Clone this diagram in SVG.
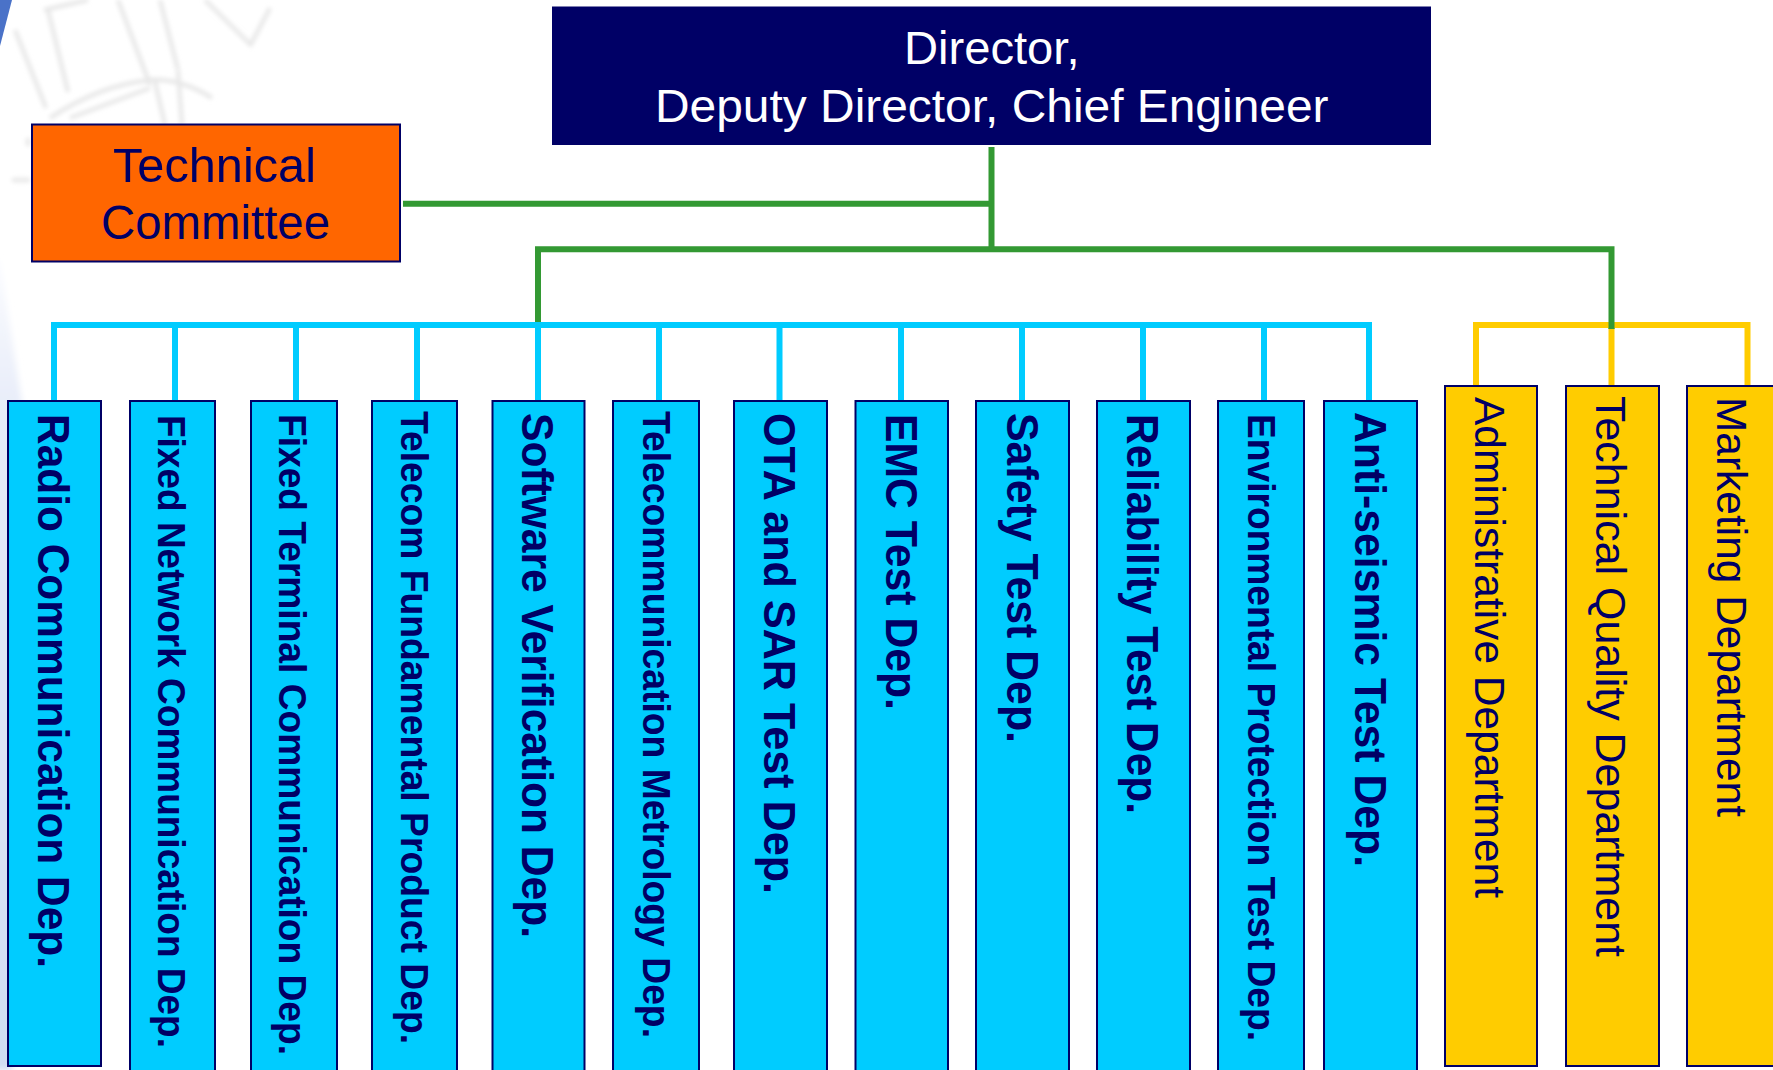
<svg xmlns="http://www.w3.org/2000/svg" width="1773" height="1070" viewBox="0 0 1773 1070">
<style>
.t{font-family:"Liberation Sans",Arial,sans-serif;fill:#000066}
.b{font-weight:bold}
.w{font-family:"Liberation Sans",Arial,sans-serif;fill:#fff}
.box{stroke:#000066;stroke-width:2}
.cy{fill:#00ccff}.go{fill:#ffcc00}
.g{stroke:#339933;stroke-width:6;fill:none}
.c{stroke:#00ccff;stroke-width:6;fill:none}
.y{stroke:#ffcc00;stroke-width:6;fill:none}
.gl{stroke:#e8e8e8;stroke-width:4.500;fill:none;filter:url(#bl)}
</style>
<defs>
<filter id="bl" x="-20%" y="-20%" width="140%" height="140%"><feGaussianBlur stdDeviation="2"/></filter>
<filter id="bl2" x="-100%" y="-5%" width="300%" height="110%"><feGaussianBlur stdDeviation="3"/></filter>
<linearGradient id="sw" x1="0" y1="0" x2="0" y2="1"><stop offset="0" stop-color="#fbfcff"/><stop offset="0.2" stop-color="#e6ebf8"/><stop offset="1" stop-color="#d0dcf2"/></linearGradient>
</defs>
<rect width="1773" height="1070" fill="#fff"/>
<g id="background">
<path d="M0,260Q12,340 22,402L12,1070H-10V260Z" fill="url(#sw)" filter="url(#bl2)"/>
<path d="M0,0H12L0,46Z" fill="#4a72c8"/>
<path class="gl" d="M44,10L88,0M48,10L68,92M15,30L46,108M118,0L150,85M160,0L178,70M205,0L252,46M250,46L270,8"/>
<path class="gl" d="M50,118Q100,85 150,80Q180,78 212,98M70,118L150,88M155,82L165,125M178,70L182,125"/>
<path class="gl" d="M12,180H30M28,138V146"/>
</g>
<g id="connectors">
<path class="g" d="M991.5,147V249M403,203.700H991.500M538,322V249.300H1611.500V329"/>
<path class="c" d="M54,400V325H1369V400M175,325V400M296,325V400M417,325V400M538,325V400M659,325V400M779.500,325V400M901,325V400M1022,325V400M1143,325V400M1264,325V400"/>
<path class="y" d="M1476,385V325H1747.500V385M1611.500,329V385"/>
<path class="g" d="M1611.500,322V329"/>
</g>
<g id="director"><rect x="552" y="6.500" width="879" height="138.500" fill="#000066"/>
<text class="w" x="904" y="64.300" font-size="46.500" textLength="175.500" lengthAdjust="spacingAndGlyphs">Director,</text>
<text class="w" x="655" y="121.700" font-size="46.500" textLength="673.500" lengthAdjust="spacingAndGlyphs">Deputy Director, Chief Engineer</text></g>
<g id="technical-committee"><rect class="box" x="32" y="124.500" width="368" height="137" fill="#ff6600"/>
<text class="t" x="113" y="181.700" font-size="47.500" textLength="203" lengthAdjust="spacingAndGlyphs">Technical</text>
<text class="t" x="101" y="239.300" font-size="47.500" textLength="229" lengthAdjust="spacingAndGlyphs">Committee</text></g>
<g id="radio"><rect class="box cy" x="8" y="401" width="93" height="665"/><text class="t b" transform="translate(38,414) rotate(90) scale(1,1.04)" font-size="42.400" textLength="554" lengthAdjust="spacingAndGlyphs">Radio Communication Dep.</text></g>
<g id="fixed-network"><rect class="box cy" x="130" y="401" width="85" height="670"/><text class="t b" transform="translate(158,415) rotate(90) scale(1,1.04)" font-size="37.100" textLength="633" lengthAdjust="spacingAndGlyphs">Fixed Network Communication Dep.</text></g>
<g id="fixed-terminal"><rect class="box cy" x="251" y="401" width="86" height="670"/><text class="t b" transform="translate(279,414) rotate(90) scale(1,1.04)" font-size="37.100" textLength="641" lengthAdjust="spacingAndGlyphs">Fixed Terminal Communication Dep.</text></g>
<g id="telecom-fundamental"><rect class="box cy" x="372" y="401" width="85" height="670"/><text class="t b" transform="translate(401,411) rotate(90) scale(1,1.04)" font-size="37.100" textLength="633" lengthAdjust="spacingAndGlyphs">Telecom Fundamental Product Dep.</text></g>
<g id="software"><rect class="box cy" x="492.500" y="401" width="92" height="670"/><text class="t b" transform="translate(522,413) rotate(90) scale(1,1.04)" font-size="42.400" textLength="525" lengthAdjust="spacingAndGlyphs">Software Verification Dep.</text></g>
<g id="telecom-metrology"><rect class="box cy" x="613" y="401" width="86" height="670"/><text class="t b" transform="translate(642.500,411) rotate(90) scale(1,1.04)" font-size="37.100" textLength="627" lengthAdjust="spacingAndGlyphs">Telecommunication Metrology Dep.</text></g>
<g id="ota-sar"><rect class="box cy" x="734" y="401" width="93" height="670"/><text class="t b" transform="translate(764,413) rotate(90) scale(1,1.04)" font-size="42.400" textLength="481" lengthAdjust="spacingAndGlyphs">OTA and SAR Test Dep.</text></g>
<g id="emc"><rect class="box cy" x="855.500" y="401" width="92.500" height="670"/><text class="t b" transform="translate(886,414) rotate(90) scale(1,1.04)" font-size="42.400" textLength="296" lengthAdjust="spacingAndGlyphs">EMC Test Dep.</text></g>
<g id="safety"><rect class="box cy" x="976" y="401" width="93" height="670"/><text class="t b" transform="translate(1007,413) rotate(90) scale(1,1.04)" font-size="42.400" textLength="330" lengthAdjust="spacingAndGlyphs">Safety Test Dep.</text></g>
<g id="reliability"><rect class="box cy" x="1097" y="401" width="93" height="670"/><text class="t b" transform="translate(1127,414) rotate(90) scale(1,1.04)" font-size="42.400" textLength="400" lengthAdjust="spacingAndGlyphs">Reliability Test Dep.</text></g>
<g id="environmental"><rect class="box cy" x="1218" y="401" width="86" height="670"/><text class="t b" transform="translate(1248,414) rotate(90) scale(1,1.04)" font-size="37.100" textLength="627" lengthAdjust="spacingAndGlyphs">Environmental Protection Test Dep.</text></g>
<g id="anti-seismic"><rect class="box cy" x="1324" y="401" width="93" height="670"/><text class="t b" transform="translate(1355,412) rotate(90) scale(1,1.04)" font-size="42.400" textLength="455" lengthAdjust="spacingAndGlyphs">Anti-seismic Test Dep.</text></g>
<g id="administrative"><rect class="box go" x="1445" y="386" width="92" height="680"/><text class="t" transform="translate(1475,397) rotate(90) scale(1,1.02)" font-size="42.500" textLength="501" lengthAdjust="spacingAndGlyphs">Administrative Department</text></g>
<g id="technical-quality"><rect class="box go" x="1566" y="386" width="93" height="680"/><text class="t" transform="translate(1596,396) rotate(90) scale(1,1.02)" font-size="42.500" textLength="561" lengthAdjust="spacingAndGlyphs">Technical Quality Department</text></g>
<g id="marketing"><rect class="box go" x="1687" y="386" width="92" height="680"/><text class="t" transform="translate(1717,397) rotate(90) scale(1,1.02)" font-size="42.500" textLength="420" lengthAdjust="spacingAndGlyphs">Marketing Department</text></g>
</svg>
